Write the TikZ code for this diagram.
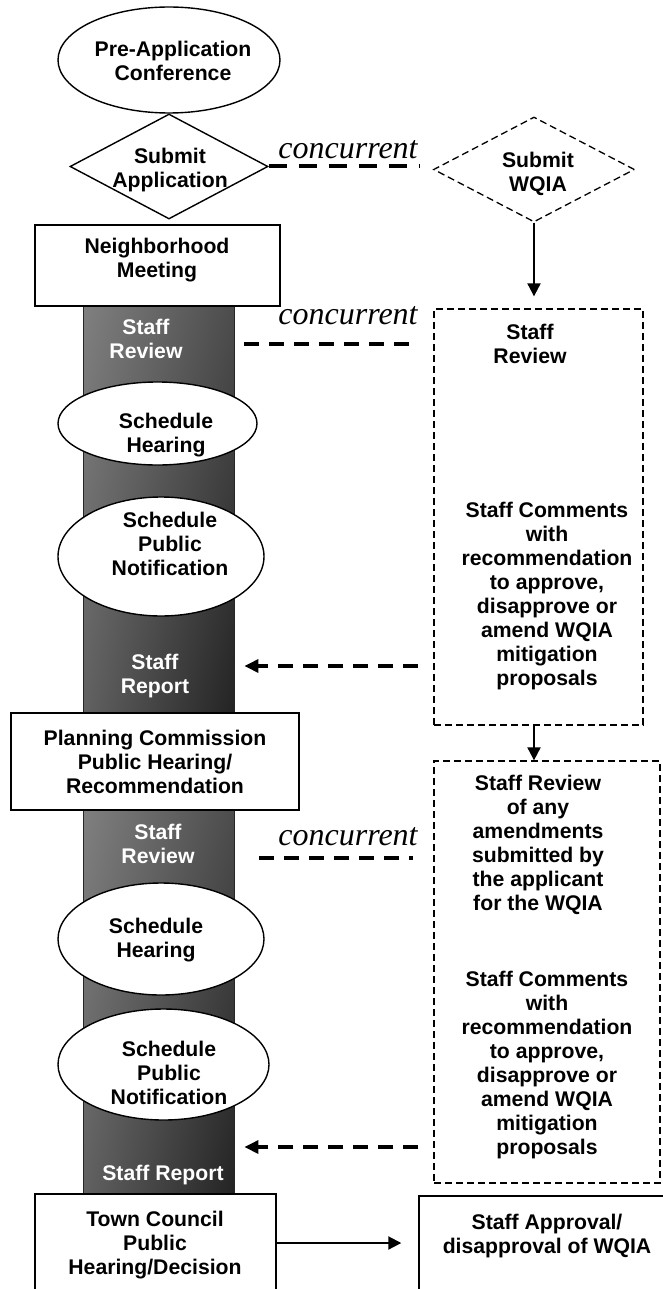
\documentclass[tikz,border=0pt]{standalone}
\usepackage{fontspec}
\setmainfont{Liberation Sans}
\newfontfamily\cncfont{Liberation Serif}
\usetikzlibrary{shapes.geometric,shadings,arrows.meta}

\tikzset{
	lbl/.style={font=\bfseries\fontsize{10.6}{12}\selectfont, align=center, inner sep=0pt},
	wlbl/.style={lbl, text=white},
	oval/.style={draw, ellipse, line width=0.7pt, fill=white, inner sep=0pt},
	box/.style={draw, line width=0.7pt, fill=white, inner sep=0pt},
	dbox/.style={draw, line width=0.65pt, dash pattern=on 3.5pt off 2pt, inner sep=0pt},
	colseg/.style={draw=black!85, line width=0.4pt, inner sep=0pt, minimum width=75.5pt, shade,
		upper left=black!50, upper right=black!70, lower left=black!62, lower right=black!86},
	conc/.style={font=\cncfont\itshape\fontsize{16}{18}\selectfont, inner sep=0pt, anchor=base},
	concur/.style={line width=1.6pt, dash pattern=on 7.5pt off 5pt},
	arr/.style={line width=1pt, -{Triangle[length=6.5pt,width=6.5pt]}},
	darr/.style={concur, -{Triangle[length=7pt,width=6.5pt]}},
}

\begin{document}
\begin{tikzpicture}[x=0.5pt, y=-0.5pt]
	\useasboundingbox (0,0) rectangle (663,1289);
	%%%%% GREY COLUMN %%%%%
	\node[colseg, minimum height=203.5pt] (col1) at (158.5,509.5) {};
	\node[colseg, minimum height=192pt] (col2) at (158.5,1002) {};
	
	%%%%% LEFT SIDE %%%%%
	\node[oval, minimum width=111pt, minimum height=53pt] (preapp) at (169,60) {};
	\node[lbl] (preapptxt) at (173,61) {Pre-Application\\Conference};
	
	\node[diamond, draw, line width=0.7pt, inner sep=0pt, minimum width=99pt, minimum height=52.5pt] (subapp) at (169,166.5) {};
	\node[lbl] (subapptxt) at (170,170) {Submit\\Application};
	
	\node[box, minimum width=122.5pt, minimum height=40.5pt] (nbhd) at (157.5,265.5) {};
	\node[lbl] (nbhdtxt) at (157,260) {Neighborhood\\Meeting};
	
	\node[wlbl] (revlbl1) at (146,339) {Staff\\Review};
	\node[oval, minimum width=99.5pt, minimum height=41.5pt] (hear1) at (157.5,423.5) {};
	\node[lbl] (hear1txt) at (166,435) {Schedule\\Hearing};
	\node[oval, minimum width=103pt, minimum height=59.5pt] (notif1) at (161,556.5) {};
	\node[lbl] (notif1txt) at (170,544) {Schedule\\Public\\Notification};
	\node[wlbl] (rptlbl1) at (155,676) {Staff\\Report};
	
	\node[box, minimum width=144pt, minimum height=48.5pt] (plan) at (155,761.5) {};
	\node[lbl] (plantxt) at (155,762) {Planning Commission\\Public Hearing/\\Recommendation};
	
	\node[wlbl] (revlbl2) at (158,844) {Staff\\Review};
	\node[oval, minimum width=103pt, minimum height=56pt] (hear2) at (161,939) {};
	\node[lbl] (hear2txt) at (156,940) {Schedule\\Hearing};
	\node[oval, minimum width=105.5pt, minimum height=55.5pt] (notif2) at (163.5,1064.5) {};
	\node[lbl] (notif2txt) at (169,1073) {Schedule\\Public\\Notification};
	\node[wlbl] (rptlbl2) at (163,1175) {Staff Report};
	
	\node[box, minimum width=120.5pt, minimum height=49pt] (town) at (155.5,1243) {};
	\node[lbl] (towntxt) at (155,1245) {Town Council\\Public\\Hearing/Decision};
	
	%%%%% RIGHT SIDE %%%%%
	\node[dbox, diamond, minimum width=100.5pt, minimum height=52.5pt] (wqia) at (534,169.5) {};
	\node[lbl] (wqiatxt) at (538,174) {Submit\\WQIA};
	
	\node[dbox, minimum width=104.5pt, minimum height=208pt] (rect1) at (538.5,517) {};
	\node[lbl] (rect1top) at (530,344) {Staff\\Review};
	\node[lbl] (rect1txt) at (547,596) {Staff Comments\\with\\recommendation\\to approve,\\disapprove or\\amend WQIA\\mitigation\\proposals};
	
	\node[dbox, minimum width=113pt, minimum height=211pt] (rect2) at (547,972) {};
	\node[lbl] (rect2top) at (538,845) {Staff Review\\of any\\amendments\\submitted by\\the applicant\\for the WQIA};
	\node[lbl] (rect2txt) at (547,1065) {Staff Comments\\with\\recommendation\\to approve,\\disapprove or\\amend WQIA\\mitigation\\proposals};
	
	\node[box, minimum width=122.5pt, minimum height=48pt] (approval) at (541.5,1244) {};
	\node[lbl] (approvaltxt) at (547,1236) {Staff Approval/\\disapproval of WQIA};
	
	%%%%% CONCURRENT LINKS %%%%%
	\node[conc] (conc1) at (348,159) {concurrent};
	\node[conc] (conc2) at (348,324) {concurrent};
	\node[conc] (conc3) at (348,845) {concurrent};
	\coordinate (rv1) at (0,344);
	\coordinate (rp1) at (0,666);
	\coordinate (rv2) at (0,858);
	\coordinate (rp2) at (0,1147);
	
	\draw[concur, line width=2pt, dash pattern=on 9pt off 6pt, shorten >=7pt] (subapp.east) -- (subapp.east -| wqia.west);
	\draw[concur, shorten <=5pt, shorten >=7.5pt] (rv1 -| col1.east) -- (rv1 -| rect1.west);
	\draw[darr, shorten <=7.5pt, shorten >=5pt] (rp1 -| rect1.west) -- (rp1 -| col1.east);
	\draw[concur, shorten <=12.5pt, shorten >=10pt] (rv2 -| col2.east) -- (rv2 -| rect2.west);
	\draw[darr, shorten <=7.5pt, shorten >=5pt] (rp2 -| rect2.west) -- (rp2 -| col2.east);
	
	%%%%% ARROWS %%%%%
	\draw[arr, shorten >=6pt] (wqia.south) -- (rect1.north -| wqia.south);
	\draw[arr] (rect1.south -| wqia.south) -- (rect2.north -| wqia.south);
	\draw[arr, shorten >=8.5pt] (town.east) -- (town.east -| approval.west);
\end{tikzpicture}
\end{document}
